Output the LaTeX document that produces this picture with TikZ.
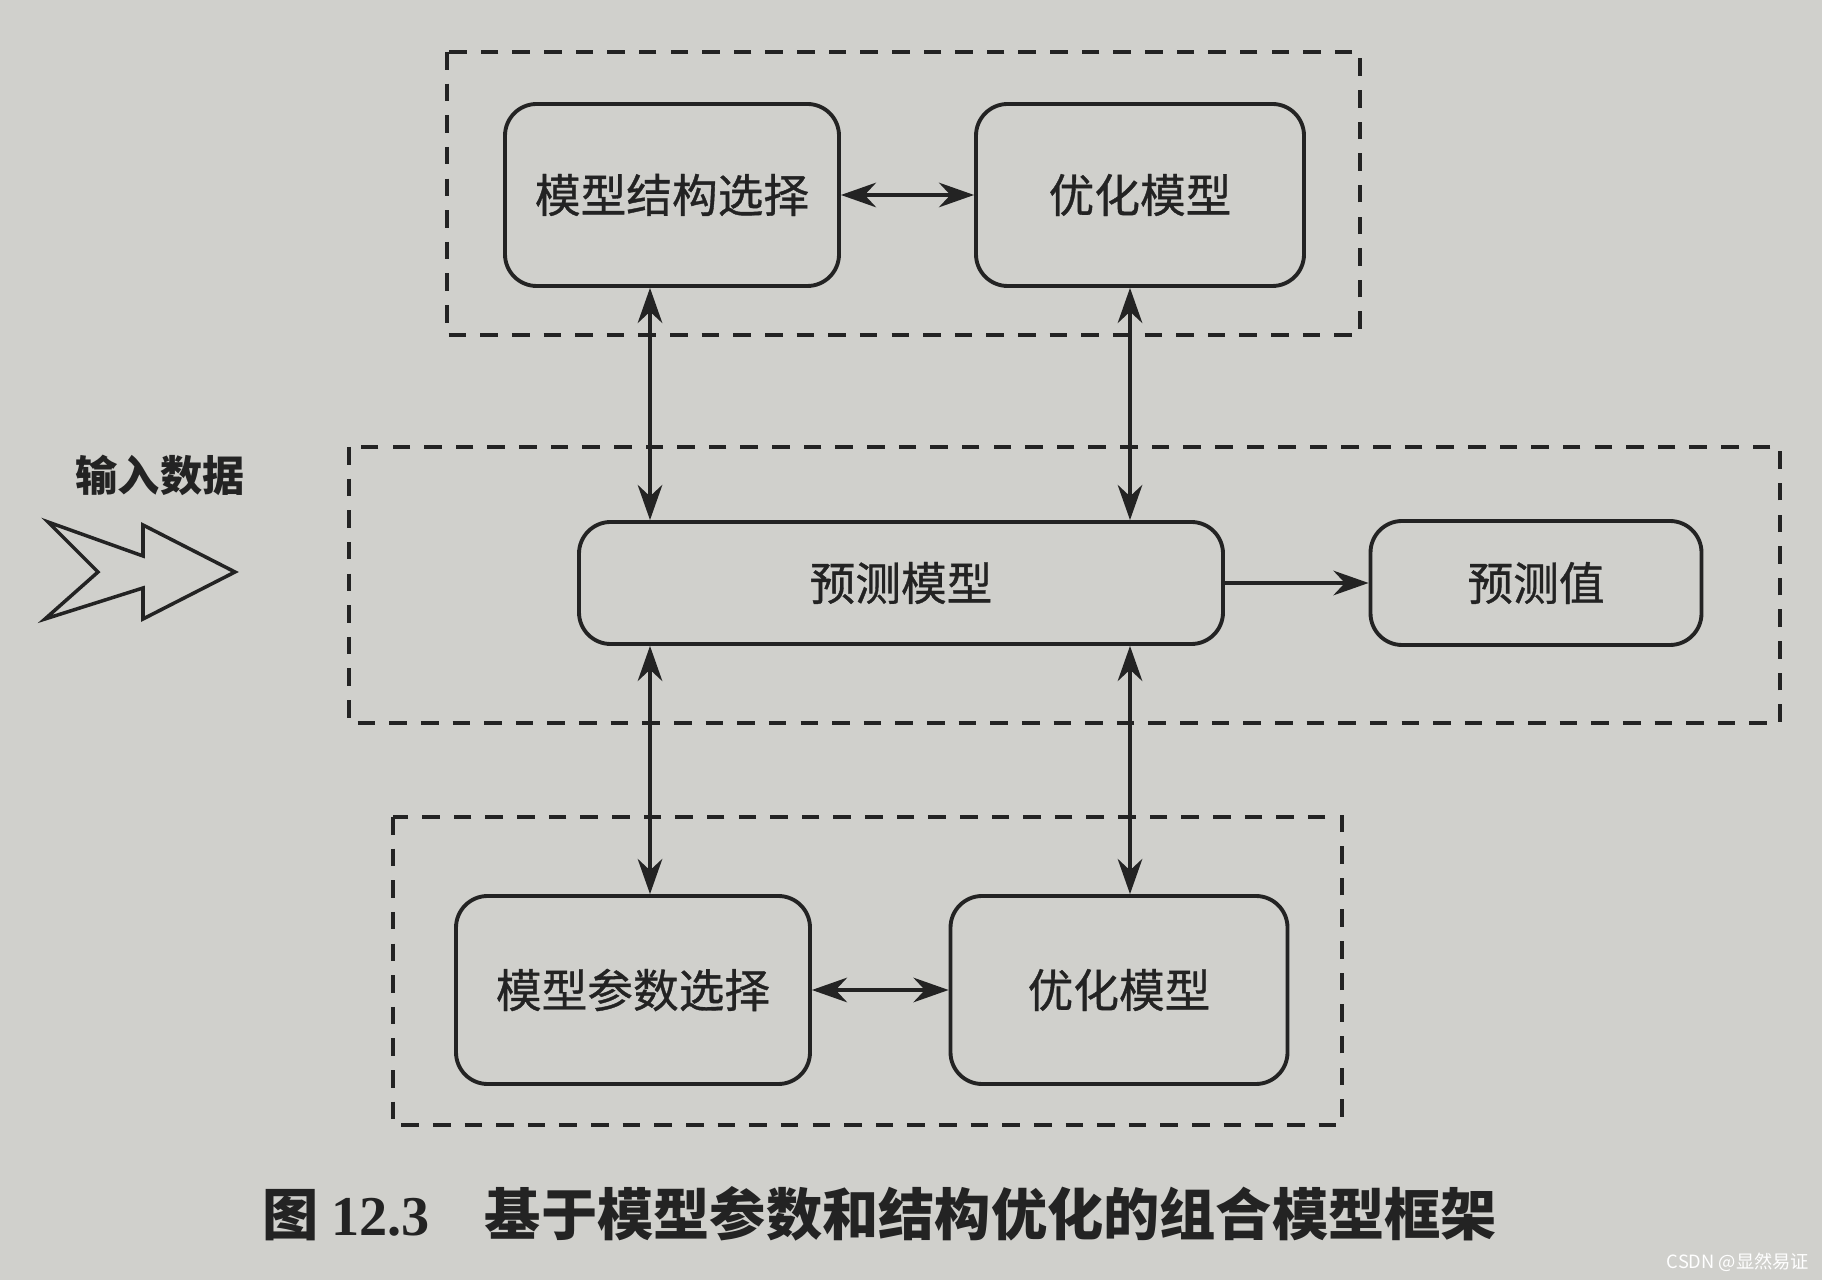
\documentclass[tikz,border=0pt]{standalone}
\usepackage{fontspec}
\setmainfont{Liberation Serif}
\newfontfamily\cjk{Noto Sans CJK SC}
\newfontfamily\cjkm[FakeBold=0.8]{Noto Sans CJK SC}
\usetikzlibrary{arrows.meta,calc,positioning}
\definecolor{paper}{RGB}{208,208,204}
\definecolor{ink}{RGB}{35,35,35}

\begin{document}
\begin{tikzpicture}[
    box/.style={
      draw=ink, line width=1.1pt,
      rounded corners=9pt,
      text=ink,
      font=\cjkm\fontsize{13}{15}\selectfont,
      inner sep=4pt
    },
    frame/.style={draw=ink, line width=1pt, dash pattern=on 5pt off 4pt},
    arr/.style={-{Stealth[length=10pt,width=7pt]}, line width=1pt, draw=ink},
    darr/.style={{Stealth[length=10pt,width=7pt]}-{Stealth[length=10pt,width=7pt]}, line width=1pt, draw=ink}
  ]

  % Page
  \fill[paper] (0,0) rectangle (18.22,-12.80);
  \useasboundingbox (0,0) rectangle (18.22,-12.80);

  % Dashed groups
  \draw[frame] (4.47,-0.52) rectangle (13.60,-3.35);
  \draw[frame] (3.49,-4.47) rectangle (17.80,-7.23);
  \draw[frame] (3.93,-8.17) rectangle (13.42,-11.25);

  % Nodes
  \node[box, minimum width=3.34cm, minimum height=1.82cm] (S)  at (6.72,-1.95) {模型结构选择};
  \node[box, minimum width=3.28cm, minimum height=1.82cm] (O1) at (11.40,-1.95) {优化模型};
  \node[box, minimum width=6.44cm, minimum height=1.22cm] (M)  at (9.01,-5.83) {预测模型};
  \node[box, minimum width=3.31cm, minimum height=1.24cm] (V)  at (15.36,-5.83) {预测值};
  \node[box, minimum width=3.54cm, minimum height=1.88cm] (P)  at (6.33,-9.90) {模型参数选择};
  \node[box, minimum width=3.37cm, minimum height=1.88cm] (O2) at (11.19,-9.90) {优化模型};

  % Columns of the vertical links
  \coordinate (cl) at (6.50,0);
  \coordinate (cr) at (11.30,0);

  % Links
  \draw[darr] (S) -- (O1);
  \draw[darr] (P) -- (O2);
  \draw[arr]  (M) -- (V);
  \draw[darr] (S.south -| cl) -- (M.north -| cl);
  \draw[darr] (O1.south -| cr) -- (M.north -| cr);
  \draw[darr] (M.south -| cl) -- (P.north -| cl);
  \draw[darr] (M.south -| cr) -- (O2.north -| cr);

  % Input
  \node[text=ink, font=\cjk\bfseries\fontsize{12}{14}\selectfont] (IN) at (1.60,-4.75) {输入数据};
  \draw[ink, line width=1pt, line join=miter]
    (0.48,-5.22) -- (1.43,-5.56) -- (1.43,-5.25) -- (2.35,-5.72)
    -- (1.43,-6.19) -- (1.43,-5.88) -- (0.45,-6.19) -- (0.98,-5.72) -- cycle;

  % Caption
  \node[anchor=west, text=ink, font=\cjk\bfseries\fontsize{16}{18}\selectfont] (C) at (2.50,-12.14)
    {图 {\rmfamily\bfseries 12.3}\hspace{0.55cm}基于模型参数和结构优化的组合模型框架};

  % Watermark
  \node[text=white, font=\cjk\fontsize{5.2}{6}\selectfont] (W) at (17.38,-12.62) {CSDN @显然易证};

\end{tikzpicture}
\end{document}
